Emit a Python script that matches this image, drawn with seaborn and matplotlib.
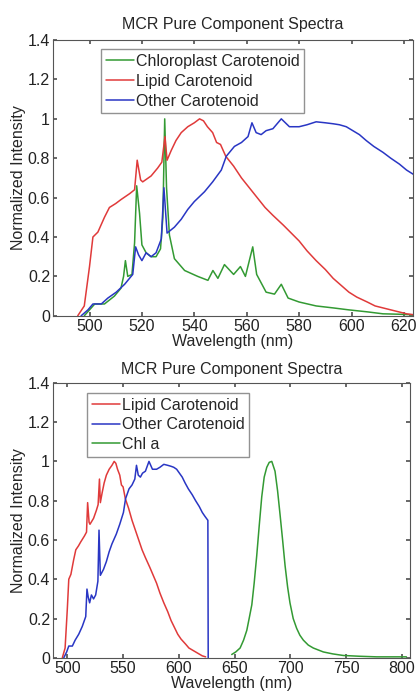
import numpy as np
import pandas as pd
import seaborn as sns
import matplotlib
matplotlib.use("Agg")
import matplotlib.pyplot as plt

# ---- data (wavelength in nm, normalized intensity) ----
lipid_wl = [495.5, 498, 500, 501.3, 503.2, 505.7, 507.6, 510, 512, 515.3, 517.2, 518.2,
            519.5, 520.3, 523.5, 526, 527.6, 528.8, 529.6, 531.2, 533, 535, 537.5, 540,
            542, 543.5, 545, 547, 548.5, 550, 552, 555, 558, 561, 564, 567, 570, 574,
            577, 580, 583, 586.5, 590, 593, 596, 599, 602, 606, 609, 612, 615, 618,
            621, 624]
lipid_int = [0.0, 0.05, 0.25, 0.40, 0.425, 0.50, 0.55, 0.57, 0.59, 0.62, 0.64, 0.79,
             0.69, 0.68, 0.71, 0.75, 0.78, 0.91, 0.79, 0.84, 0.89, 0.93, 0.96, 0.98,
             1.0, 0.99, 0.96, 0.93, 0.88, 0.87, 0.81, 0.76, 0.70, 0.65, 0.60, 0.55,
             0.51, 0.46, 0.42, 0.38, 0.33, 0.28, 0.235, 0.19, 0.155, 0.12, 0.095,
             0.07, 0.05, 0.04, 0.03, 0.02, 0.01, 0.005]

other_wl = [496.8, 499.4, 501.3, 504.5, 507, 510.2, 513.4, 516.5, 517.6, 518.7, 520,
            521.6, 523.5, 525.4, 527.4, 528.4, 529.6, 532.4, 535, 537.5, 540, 543.9,
            547, 550.3, 552.2, 555.3, 558, 560.5, 562, 563.6, 565.5, 567.4, 570, 573.2,
            576.3, 580, 583, 586.5, 590, 593, 595.4, 598, 600.5, 603, 605.6, 608.5,
            612, 615, 618.3, 621, 623.4, 626]
other_int = [0.0, 0.03, 0.06, 0.06, 0.09, 0.12, 0.16, 0.21, 0.35, 0.31, 0.28,
             0.32, 0.30, 0.32, 0.39, 0.65, 0.42, 0.45, 0.49, 0.54, 0.58, 0.63,
             0.68, 0.74, 0.81, 0.86, 0.88, 0.91, 0.98, 0.93, 0.92, 0.94, 0.95, 1.0,
             0.96, 0.96, 0.97, 0.985, 0.98, 0.975, 0.97, 0.96, 0.94, 0.92, 0.89, 0.86,
             0.83, 0.80, 0.77, 0.74, 0.72, 0.70]

chloro_wl = [498, 500, 502, 505.7, 509.5, 512, 513, 513.7, 514.6, 516.2, 517.2, 518,
             519.1, 520, 521.6, 523.5, 525.4, 527.1, 528, 528.7, 529.4, 530.5, 532.4,
             536.3, 541.3, 545.2, 547.1, 549, 551.5, 555, 557.6, 559.5, 562.3, 563.8,
             567.4, 570.6, 573.2, 575.8, 580, 586.5, 593, 599, 606, 612, 618, 623.4]
chloro_int = [0.0, 0.03, 0.06, 0.06, 0.10, 0.14, 0.20, 0.28, 0.20, 0.21, 0.37, 0.66,
              0.52, 0.36, 0.32, 0.30, 0.30, 0.34, 0.50, 1.0, 0.65, 0.41, 0.29,
              0.23, 0.20, 0.18, 0.23, 0.19, 0.26, 0.21, 0.25, 0.20, 0.35, 0.21,
              0.12, 0.11, 0.16, 0.09, 0.07, 0.05, 0.04, 0.03, 0.02, 0.01, 0.008, 0.005]

# bottom panel: Other Carotenoid cut off at 626 nm
other_cut_wl = other_wl + [626.3]
other_cut_int = other_int + [0.0]

chla_wl = [647.4, 651, 654.9, 658, 660.9, 663, 665.4, 667.5, 669.8, 672, 674.3, 676.5,
           678.8, 681, 683.3, 686.2, 688.5, 690.7, 693, 695.2, 697.5, 699.6, 702.5,
           705.6, 708.5, 711.6, 716, 720.5, 725, 729.5, 738, 747.4, 762, 777.3, 790, 804]
chla_int = [0.017, 0.03, 0.05, 0.09, 0.14, 0.20, 0.27, 0.38, 0.52, 0.67, 0.82, 0.92,
            0.97, 0.995, 1.0, 0.95, 0.85, 0.73, 0.60, 0.47, 0.36, 0.28, 0.20,
            0.15, 0.115, 0.09, 0.065, 0.05, 0.04, 0.03, 0.02, 0.012, 0.008, 0.005,
            0.005, 0.005]

RED = "#e03a3a"
BLUE = "#2936c4"
GREEN = "#339a33"
FS = 11.5

sns.set_theme(style="ticks")
plt.rcParams["font.family"] = ["Liberation Sans", "DejaVu Sans"]
plt.rcParams.update({
    "xtick.direction": "in", "ytick.direction": "in",
    "xtick.top": True, "ytick.right": True,
    "xtick.major.size": 3, "ytick.major.size": 3,
    "axes.edgecolor": "#555555", "axes.linewidth": 0.8,
})

fig = plt.figure(figsize=(4.16, 6.91), dpi=100)
ax1 = fig.add_axes([0.127, 0.543, 0.866, 0.399])
ax2 = fig.add_axes([0.127, 0.048, 0.858, 0.398])


def style_axes(ax, xlim, xticks, title_pad):
    ax.set_xlim(*xlim)
    ax.set_ylim(0, 1.4)
    ax.set_xticks(xticks)
    ax.set_yticks([0, 0.2, 0.4, 0.6, 0.8, 1.0, 1.2, 1.4])
    ax.set_yticklabels(["0", "0.2", "0.4", "0.6", "0.8", "1", "1.2", "1.4"])
    ax.tick_params(labelsize=FS, pad=2, colors="#555555", labelcolor="#222222")
    ax.set_title("MCR Pure Component Spectra", fontsize=FS, pad=title_pad)
    ax.set_xlabel("Wavelength (nm)", fontsize=FS, labelpad=0)
    ax.set_ylabel("Normalized Intensity", fontsize=FS, labelpad=1)
    for s in ax.spines.values():
        s.set_visible(True)


def add_legend(ax, anchor):
    ax.legend(loc="upper left", bbox_to_anchor=anchor, fontsize=FS,
              frameon=True, fancybox=False, edgecolor="#777777", borderpad=0.3,
              labelspacing=0.3, handlelength=1.8, handletextpad=0.1,
              borderaxespad=0)


# top panel
sns.lineplot(x=chloro_wl, y=chloro_int, ax=ax1, color=GREEN, lw=1.1,
             label="Chloroplast Carotenoid", estimator=None, sort=False)
sns.lineplot(x=lipid_wl, y=lipid_int, ax=ax1, color=RED, lw=1.1,
             label="Lipid Carotenoid", estimator=None, sort=False)
sns.lineplot(x=other_wl, y=other_int, ax=ax1, color=BLUE, lw=1.1,
             label="Other Carotenoid", estimator=None, sort=False)
style_axes(ax1, (486, 623.5), [500, 520, 540, 560, 580, 600, 620], 8)
add_legend(ax1, (0.133, 0.967))

# bottom panel
sns.lineplot(x=lipid_wl, y=lipid_int, ax=ax2, color=RED, lw=1.1,
             label="Lipid Carotenoid", estimator=None, sort=False)
sns.lineplot(x=other_cut_wl, y=other_cut_int, ax=ax2, color=BLUE, lw=1.1,
             label="Other Carotenoid", estimator=None, sort=False)
sns.lineplot(x=chla_wl, y=chla_int, ax=ax2, color=GREEN, lw=1.1,
             label="Chl a", estimator=None, sort=False)
style_axes(ax2, (487, 807), [500, 550, 600, 650, 700, 750, 800], 6)
add_legend(ax2, (0.095, 0.964))

fig.savefig("out.png", dpi=100)
